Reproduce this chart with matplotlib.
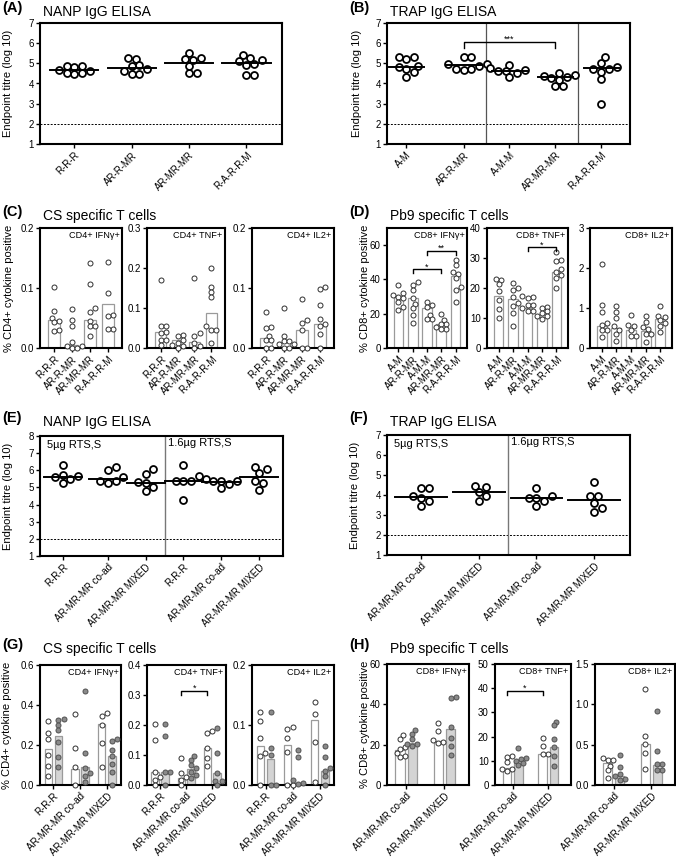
import numpy as np
import matplotlib
matplotlib.use("Agg")
import matplotlib.pyplot as plt
from matplotlib.ticker import FormatStrFormatter

plt.rcParams['font.family'] = ['Liberation Sans', 'DejaVu Sans']

# ---------------- data ----------------
A_groups = ['R-R-R', 'AR-R-MR', 'AR-MR-MR', 'R-A-R-R-M']
A_vals = [[4.85, 4.5, 4.67, 4.85, 4.5, 4.63, 4.83, 4.48],
          [4.88, 4.45, 5.22, 4.7, 5.28, 4.9, 4.45, 4.63],
          [5.5, 5.17, 4.5, 5.25, 4.88, 4.53, 5.2],
          [5.42, 5.1, 5.17, 4.93, 4.43, 4.43, 5.25, 4.95]]
A_lines = [4.65, 4.78, 5.03, 5.03]

B_groups = ['A-M', 'AR-R-MR', 'A-M-M', 'AR-MR-MR', 'R-A-R-R-M']
B_vals = [[5.3, 5.33, 5.22, 4.83, 4.72, 4.88, 4.33, 4.55],
          [4.72, 4.97, 5.33, 4.72, 5.33, 4.88, 4.97, 4.67],
          [4.53, 4.67, 4.92, 4.62, 4.62, 4.78, 4.33],
          [4.33, 4.42, 4.53, 4.17, 3.87, 3.87, 4.37, 4.28],
          [5.03, 4.72, 4.55, 5.33, 4.2, 4.72, 4.8, 2.98]]
B_lines = [4.83, 4.92, 4.62, 4.33, 4.77]

C_groups = A_groups
C_ifng_vals = [[0.101, 0.062, 0.05, 0.045, 0.043, 0.03, 0.028],
               [0.065, 0.047, 0.036, 0.01, 0.004, 0.003, 0.0, 0.0],
               [0.142, 0.106, 0.066, 0.06, 0.045, 0.036, 0.036, 0.02],
               [0.143, 0.091, 0.055, 0.054, 0.032, 0.032]]
C_ifng_bars = [0.046, 0.005, 0.046, 0.074]
C_tnf_vals = [[0.17, 0.056, 0.056, 0.04, 0.037, 0.021, 0.021, 0.008],
              [0.033, 0.03, 0.02, 0.012, 0.007, 0.004, 0.0],
              [0.176, 0.037, 0.031, 0.012, 0.006, 0.0],
              [0.2, 0.152, 0.14, 0.128, 0.054, 0.045, 0.045, 0.012]]
C_tnf_bars = [0.04, 0.02, 0.015, 0.088]
C_il2_vals = [[0.06, 0.035, 0.033, 0.02, 0.013, 0.013, 0.0, 0.0],
              [0.067, 0.02, 0.011, 0.011, 0.006, 0.006, 0.0, 0.0],
              [0.081, 0.047, 0.042, 0.03, 0.0, 0.0],
              [0.101, 0.098, 0.072, 0.048, 0.04, 0.036, 0.024, 0.0]]
C_il2_bars = [0.017, 0.01, 0.03, 0.04]

D_groups = B_groups
D_ifng_vals = [[37, 32, 31, 30, 29, 27, 24, 22],
               [38.7, 36.8, 34, 29.4, 25.5, 23.2, 19.3, 14.5],
               [27, 25, 24, 19.3, 16.8, 16.8],
               [20, 16.5, 14, 14, 12.5, 11, 11],
               [51.3, 48.4, 44.5, 43, 40.6, 35.8, 33.8, 27]]
D_ifng_bars = [30, 29, 23.5, 14, 42]
D_tnf_vals = [[22.6, 22.9, 21.3, 19, 16, 12.9, 9.9],
              [21.8, 19.9, 19.3, 17.1, 14.9, 14, 11.6, 7.4],
              [17.3, 17.1, 16.6, 14.4, 14.4, 13.3, 12.5, 12.5],
              [13.8, 13.3, 12.2, 11.6, 10.8, 10.6, 9.6],
              [32, 29.5, 29, 26.5, 25.4, 24.3, 23.2, 19.9]]
D_tnf_bars = [17.5, 16.5, 13.5, 10.5, 25.5]
D_il2_vals = [[2.09, 1.08, 0.89, 0.62, 0.58, 0.46, 0.45, 0.27],
              [1.05, 0.89, 0.75, 0.54, 0.46, 0.36, 0.17],
              [0.83, 0.58, 0.55, 0.45, 0.29, 0.29],
              [0.79, 0.66, 0.52, 0.47, 0.36, 0.36, 0.14],
              [1.06, 0.8, 0.77, 0.69, 0.62, 0.54, 0.41]]
D_il2_bars = [0.55, 0.5, 0.45, 0.42, 0.72]

E_groups = ['R-R-R', 'AR-MR-MR co-ad', 'AR-MR-MR MIXED'] * 2
E_vals = [[5.67, 5.27, 5.73, 6.29, 5.48, 5.58],
          [6.21, 5.63, 5.25, 6.0, 5.35, 5.35],
          [6.06, 5.29, 4.81, 5.77, 5.23, 5.0],
          [5.35, 6.31, 5.67, 5.35, 5.35, 4.27],
          [5.48, 4.94, 5.35, 5.38, 5.19, 5.35],
          [6.06, 5.35, 4.85, 6.21, 5.83, 5.25]]
E_lines = [5.62, 5.48, 5.25, 5.35, 5.29, 5.58]

F_groups = ['AR-MR-MR co-ad', 'AR-MR-MR MIXED'] * 2
F_vals = [[3.95, 3.47, 4.33, 3.83, 4.33, 3.72],
          [4.47, 4.13, 3.7, 4.38, 3.97],
          [3.87, 3.95, 3.47, 4.37, 3.72, 3.87],
          [3.62, 3.13, 3.95, 4.67, 3.95, 3.37]]
F_lines = [3.88, 4.17, 3.87, 3.75]

G_groups = ['R-R-R', 'AR-MR-MR co-ad', 'AR-MR-MR MIXED']
G_ifng_white = [[0.32, 0.26, 0.23, 0.15, 0.095, 0.045], [0.353, 0.183, 0.088, 0.0],
                [0.358, 0.347, 0.3, 0.208, 0.092]]
G_ifng_grey = [[0.33, 0.325, 0.3, 0.275, 0.215, 0.14, 0.09], [0.47, 0.158, 0.087, 0.058, 0.045, 0.017],
               [0.23, 0.22, 0.175, 0.145, 0.105, 0.063, 0.0]]
G_ifng_bar_w = [0.178, 0.08, 0.305]
G_ifng_bar_g = [0.245, 0.09, 0.143]
G_tnf_white = [[0.205, 0.15, 0.045, 0.028, 0.017, 0.0], [0.09, 0.04, 0.028, 0.017, 0.0],
               [0.18, 0.172, 0.122, 0.09, 0.062]]
G_tnf_grey = [[0.203, 0.165, 0.045, 0.043, 0.0], [0.098, 0.083, 0.067, 0.056, 0.045, 0.033, 0.024],
              [0.19, 0.108, 0.04, 0.015, 0.012, 0.0]]
G_tnf_bar_w = [0.045, 0.025, 0.123]
G_tnf_bar_g = [0.045, 0.055, 0.04]
G_il2_white = [[0.122, 0.106, 0.079, 0.054, 0.048, 0.0], [0.096, 0.094, 0.079, 0.055, 0.0, 0.0],
               [0.138, 0.118, 0.072, 0.005]]
G_il2_grey = [[0.122, 0.061, 0.05, 0.0, 0.0], [0.059, 0.047, 0.008, 0.003, 0.002],
              [0.065, 0.047, 0.028, 0.023, 0.015, 0.0]]
G_il2_bar_w = [0.065, 0.067, 0.108]
G_il2_bar_g = [0.043, 0.003, 0.023]

H_groups = ['AR-MR-MR co-ad', 'AR-MR-MR MIXED']
H_ifng_white = [[24.9, 22.9, 18.6, 18, 15.8, 14.5, 13.8], [30.6, 27, 22.5, 21.1, 20.8]]
H_ifng_grey = [[27.3, 25.2, 22.9, 20.4, 20.4, 19.1], [43.5, 43, 28.7, 23.2, 19.1, 15]]
H_ifng_bar_w = [17.5, 22]
H_ifng_bar_g = [21, 28]
H_tnf_white = [[11.8, 11.5, 9.6, 6.6, 6.6, 5.6], [19.4, 16.2, 12.8, 12.8]]
H_tnf_grey = [[15.2, 11.1, 10.7, 10, 9, 8.4], [26.2, 24.6, 19, 15.7, 12.1, 8]]
H_tnf_bar_w = [7.2, 13]
H_tnf_bar_g = [10.5, 15.5]
H_il2_white = [[0.34, 0.31, 0.31, 0.23, 0.18, 0.087], [1.19, 0.61, 0.51, 0.4, 0.2]]
H_il2_grey = [[0.37, 0.22, 0.14, 0.11, 0.08, 0.065], [0.92, 0.42, 0.26, 0.26, 0.19, 0.19]]
H_il2_bar_w = [0.27, 0.51]
H_il2_bar_g = [0.11, 0.25]

# ---------------- helpers ----------------
W, H = 676, 857
fig = plt.figure(figsize=(W / 100, H / 100), dpi=100)

BAR_EDGE = '#9a9a9a'
GREY_FILL = '#d4d4d4'
GREY_PT = '#8a8a8a'


def px_axes(l, t, r, b):
    ax = fig.add_axes([l / W, 1 - b / H, (r - l) / W, (b - t) / H])
    ax._px = (l, r)
    return ax


def ylab(ax, text, xpx, size=8):
    # centre of the (rotated) y label at a given pixel column
    l, r = ax._px
    ax.set_ylabel(text, fontsize=size)
    ax.yaxis.set_label_coords((xpx + 5.5 - l) / (r - l), 0.5)


def style(ax, lw=1.5):
    for s in ax.spines.values():
        s.set_linewidth(lw)
    ax.tick_params(direction='out', length=3, width=1, labelsize=7, pad=1.5)


def swarm(ax, x0, vals, diam):
    # simple beeswarm offsets, worked out in pixels
    tr = ax.transData
    ys = tr.transform(np.column_stack([np.full(len(vals), x0), vals]))[:, 1]
    sx = tr.transform([(x0 + 1, 0)])[0, 0] - tr.transform([(x0, 0)])[0, 0]
    placed = []
    offs = np.zeros(len(vals))
    for i in np.argsort(ys):
        k = 0
        while True:
            cands = [0.0] if k == 0 else [k * diam * 0.55, -k * diam * 0.55]
            hit = None
            for c in cands:
                if all((c - px) ** 2 + (ys[i] - py) ** 2 >= (diam * 0.98) ** 2 for px, py in placed):
                    hit = c
                    break
            if hit is not None:
                placed.append((hit, ys[i]))
                offs[i] = hit / sx
                break
            k += 1
    return x0 + offs


def elisa(ax, pos, groups, vals, lines, ylim, xlim, half):
    ax.set_xlim(*xlim)
    ax.set_ylim(*ylim)
    style(ax)
    ax.axhline(2, color='black', lw=0.7, ls=(0, (2, 1.5)), zorder=1)
    for p, v, m in zip(pos, vals, lines):
        xs = swarm(ax, p, v, 7.0)
        ax.plot(xs, v, 'o', ms=5, mfc='white', mec='black', mew=1.3, zorder=3)
        ax.plot([p - half, p + half], [m, m], color='black', lw=1.4, zorder=4)
    ax.set_xticks(pos)
    ax.set_xticklabels(groups, rotation=45, ha='right', rotation_mode='anchor', fontsize=7)
    ax.set_yticks(range(int(ylim[0]), int(ylim[1]) + 1))


def bars1(ax, groups, vals, heights, ylim, yticks, label, fmt=None):
    pos = np.arange(len(groups))
    ax.set_xlim(-0.8, len(groups) - 1 + 0.8)
    ax.set_ylim(*ylim)
    style(ax)
    ax.bar(pos, heights, width=0.68, color='white', edgecolor=BAR_EDGE, lw=0.9, zorder=2)
    for p, v in zip(pos, vals):
        xs = swarm(ax, p, v, 4.6)
        ax.plot(xs, v, 'o', ms=3.6, mfc='white', mec='#303030', mew=0.7, zorder=3, clip_on=False)
    ax.set_xticks(pos)
    ax.set_xticklabels(groups, rotation=45, ha='right', rotation_mode='anchor', fontsize=7)
    ax.set_yticks(yticks)
    if fmt:
        ax.yaxis.set_major_formatter(FormatStrFormatter(fmt))
    ax.text(0.97, 0.975, label, transform=ax.transAxes, ha='right', va='top', fontsize=6.6)


def bars2(ax, groups, white, grey, hw, hg, ylim, yticks, label, off, bw, xr, fmt=None):
    pos = np.arange(len(groups))
    ax.set_xlim(-0.5, len(groups) - 1 + xr)
    ax.set_ylim(*ylim)
    style(ax)
    ax.bar(pos - off, hw, width=bw, color='white', edgecolor=BAR_EDGE, lw=0.9, zorder=2)
    ax.bar(pos + off, hg, width=bw, color=GREY_FILL, edgecolor=BAR_EDGE, lw=0.9, zorder=2)
    for p, vw, vg in zip(pos, white, grey):
        xs = swarm(ax, p - off, vw, 4.6)
        ax.plot(xs, vw, 'o', ms=3.6, mfc='white', mec='#303030', mew=0.7, zorder=3, clip_on=False)
        xs = swarm(ax, p + off, vg, 4.6)
        ax.plot(xs, vg, 'o', ms=3.6, mfc=GREY_PT, mec='#505050', mew=0.7, zorder=3, clip_on=False)
    ax.set_xticks(pos)
    ax.set_xticklabels(groups, rotation=45, ha='right', rotation_mode='anchor', fontsize=7)
    ax.set_yticks(yticks)
    if fmt:
        ax.yaxis.set_major_formatter(FormatStrFormatter(fmt))
    ax.text(0.97, 0.975, label, transform=ax.transAxes, ha='right', va='top', fontsize=6.6)
    return pos


def bracket(ax, x1, x2, y, drop, txt):
    ax.plot([x1, x1, x2, x2], [y - drop, y, y, y - drop], color='black', lw=1.0, zorder=5)
    ax.annotate(txt, ((x1 + x2) / 2, y), xytext=(0, -1.5), textcoords='offset points',
                ha='center', va='bottom', fontsize=6.5)


def header(x, y, letter, title):
    fig.text(x / W, 1 - y / H, letter, fontsize=10.5, fontweight='bold', va='center', ha='left')
    fig.text((x + 41) / W, 1 - (y + 4) / H, title, fontsize=10, va='center', ha='left')


# ---------------- (A) ----------------
header(2, 8, '(A)', 'NANP IgG ELISA')
axA = px_axes(40, 23, 282, 144)
elisa(axA, np.arange(4), A_groups, A_vals, A_lines, (1, 7), (-0.6, 3.62), 0.42)
ylab(axA, 'Endpoint titre (log 10)', 8)

# ---------------- (B) ----------------
header(349, 8, '(B)', 'TRAP IgG ELISA')
axB = px_axes(387, 23, 630, 144)
B_pos = np.array([0, 1.25, 2.25, 3.25, 4.25])
elisa(axB, B_pos, B_groups, B_vals, B_lines, (1, 7), (-0.42, 4.88), 0.38)
for xv in (1.75, 3.75):
    axB.axvline(xv, color='#555555', lw=0.9, zorder=1)
bracket(axB, 1.25, 3.25, 6.08, 0.33, '***')
ylab(axB, 'Endpoint titre (log 10)', 357)

# ---------------- (C) ----------------
header(2, 212, '(C)', 'CS specific T cells')
c1 = px_axes(40, 228, 122, 348)
c2 = px_axes(147, 228, 225, 348)
c3 = px_axes(252, 228, 334, 348)
bars1(c1, C_groups, C_ifng_vals, C_ifng_bars, (0, 0.2), [0, 0.1, 0.2], 'CD4+ IFNγ+', '%.1f')
bars1(c2, C_groups, C_tnf_vals, C_tnf_bars, (0, 0.3), [0, 0.1, 0.2, 0.3], 'CD4+ TNF+', '%.1f')
bars1(c3, C_groups, C_il2_vals, C_il2_bars, (0, 0.2), [0, 0.1, 0.2], 'CD4+ IL2+', '%.1f')
ylab(c1, '% CD4+ cytokine positive', 8)

# ---------------- (D) ----------------
header(349, 212, '(D)', 'Pb9 specific T cells')
d1 = px_axes(387, 228, 467, 348)
d2 = px_axes(487, 228, 568, 348)
d3 = px_axes(590, 228, 672, 348)
bars1(d1, D_groups, D_ifng_vals, D_ifng_bars, (0, 70), [0, 20, 40, 60], 'CD8+ IFNγ+')
bars1(d2, D_groups, D_tnf_vals, D_tnf_bars, (0, 40), [0, 10, 20, 30, 40], 'CD8+ TNF+')
bars1(d3, D_groups, D_il2_vals, D_il2_bars, (0, 3), [0, 1, 2, 3], 'CD8+ IL2+')
ylab(d1, '% CD8+ cytokine positive', 365)
bracket(d1, 1, 3, 45.8, 2.3, '*')
bracket(d1, 2, 4, 56.7, 2.3, '**')
bracket(d2, 2, 4, 33.6, 1.4, '*')

# ---------------- (E) ----------------
header(2, 418, '(E)', 'NANP IgG ELISA')
axE = px_axes(40, 436, 283, 556)
E_pos = np.array([0, 1.2, 2.2, 3.2, 4.2, 5.2])
elisa(axE, E_pos, E_groups, E_vals, E_lines, (1, 8), (-0.6, 5.84), 0.5)
axE.axvline(2.72, color='#777777', lw=1.0, zorder=1)
axE.text(0.03, 0.965, '5µg RTS,S', transform=axE.transAxes, ha='left', va='top', fontsize=8)
axE.text(2.78, 7.88, '1.6µg RTS,S', ha='left', va='top', fontsize=8)
ylab(axE, 'Endpoint titre (log 10)', 8)

# ---------------- (F) ----------------
header(349, 418, '(F)', 'TRAP IgG ELISA')
axF = px_axes(387, 435, 630, 555)
elisa(axF, np.arange(4), F_groups, F_vals, F_lines, (1, 7), (-0.59, 3.62), 0.45)
axF.axvline(1.5, color='#777777', lw=1.0, zorder=1)
axF.text(0.03, 0.965, '5µg RTS,S', transform=axF.transAxes, ha='left', va='top', fontsize=8)
axF.text(1.56, 6.9, '1.6µg RTS,S', ha='left', va='top', fontsize=8)
ylab(axF, 'Endpoint titre (log 10)', 355)

# ---------------- (G) ----------------
header(2, 645, '(G)', 'CS specific T cells')
g1 = px_axes(40, 665, 121, 785)
g2 = px_axes(147, 665, 226, 785)
g3 = px_axes(252, 665, 334, 785)
bars2(g1, G_groups, G_ifng_white, G_ifng_grey, G_ifng_bar_w, G_ifng_bar_g, (0, 0.6),
      [0, 0.2, 0.4, 0.6], 'CD4+ IFNγ+', 0.19, 0.28, 0.53, '%.1f')
gp = bars2(g2, G_groups, G_tnf_white, G_tnf_grey, G_tnf_bar_w, G_tnf_bar_g, (0, 0.4),
           [0, 0.1, 0.2, 0.3, 0.4], 'CD4+ TNF+', 0.19, 0.28, 0.53, '%.1f')
bars2(g3, G_groups, G_il2_white, G_il2_grey, G_il2_bar_w, G_il2_bar_g, (0, 0.2),
      [0, 0.1, 0.2], 'CD4+ IL2+', 0.19, 0.28, 0.53, '%.1f')
ylab(g1, '% CD4+ cytokine positive', 7)
bracket(g2, gp[1] - 0.19, gp[2] - 0.19, 0.315, 0.015, '*')

# ---------------- (H) ----------------
header(349, 645, '(H)', 'Pb9 specific T cells')
h1 = px_axes(387, 664, 469, 785)
h2 = px_axes(495, 664, 571, 785)
h3 = px_axes(595, 664, 675, 785)
bars2(h1, H_groups, H_ifng_white, H_ifng_grey, H_ifng_bar_w, H_ifng_bar_g, (0, 60),
      [0, 20, 40, 60], 'CD8+ IFNγ+', 0.16, 0.24, 0.64)
hp = bars2(h2, H_groups, H_tnf_white, H_tnf_grey, H_tnf_bar_w, H_tnf_bar_g, (0, 50),
           [0, 10, 20, 30, 40, 50], 'CD8+ TNF+', 0.16, 0.24, 0.64)
bars2(h3, H_groups, H_il2_white, H_il2_grey, H_il2_bar_w, H_il2_bar_g, (0, 1.5),
      [0, 0.5, 1.0, 1.5], 'CD8+ IL2+', 0.16, 0.24, 0.64, '%.1f')
ylab(h1, '% CD8+ cytokine positive', 365)
bracket(h2, hp[0] - 0.16, hp[1] - 0.16, 39, 1.8, '*')

fig.savefig('out.png', dpi=100)
